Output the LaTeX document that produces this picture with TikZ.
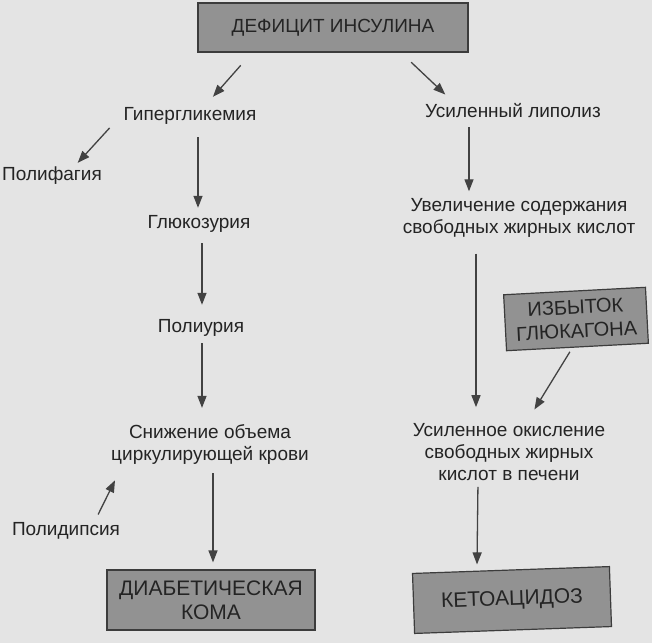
\documentclass[tikz,border=0pt]{standalone}
\usepackage{fontspec}
\setmainfont{Liberation Sans}
\usetikzlibrary{arrows.meta}

\definecolor{paper}{RGB}{228,228,228}
\definecolor{ink}{RGB}{36,36,36}
\definecolor{boxgray}{RGB}{146,146,146}
\definecolor{boxedge}{RGB}{60,60,60}
\definecolor{arrgray}{RGB}{66,66,66}

\tikzset{
  stage/.style={font=\fontsize{19}{22}\selectfont, text=ink, inner sep=0pt, text height=14pt, text depth=4pt},
  stagetwo/.style={font=\fontsize{19}{22}\selectfont, text=ink, inner sep=0pt, align=center},
  grbox/.style={draw=boxedge, fill=boxgray, line width=1.2pt, font=\fontsize{21}{24}\selectfont, text=ink, align=center, inner sep=0pt},
  arr/.style={draw=arrgray, line width=1.3pt, -{Triangle[length=12pt,width=9pt]}}
}

\begin{document}
\begin{tikzpicture}[x=1pt,y=-1pt]
    % Page of the scan
    \fill[paper] (0,0) rectangle (652,643);
    \useasboundingbox (0,0) rectangle (652,643);

    % Shaded boxes
    \node (defic) at (333,27.5) [grbox, font=\fontsize{19}{23}\selectfont, minimum width=270pt, minimum height=49pt] {ДЕФИЦИТ ИНСУЛИНА};
    \node (glucag) at (576,319) [grbox, font=\fontsize{20}{24}\selectfont, minimum width=142pt, minimum height=56pt, rotate=3] {ИЗБЫТОК\\ГЛЮКАГОНА};
    \node (coma) at (211,600) [grbox, minimum width=208pt, minimum height=60pt] {ДИАБЕТИЧЕСКАЯ\\КОМА};
    \node (keto) at (512,600) [grbox, minimum width=197pt, minimum height=60pt, rotate=2] {КЕТОАЦИДОЗ};

    % Left branch
    \node (hyper) at (190,115) [stage] {Гипергликемия};
    \node (polyph) at (52,175) [stage] {Полифагия};
    \node (gluc) at (199,223) [stage] {Глюкозурия};
    \node (poly) at (201,327) [stage] {Полиурия};
    \node (snizh) at (210,444) [stagetwo] {Снижение объема\\циркулирующей крови};
    \node (polydip) at (66,530) [stage] {Полидипсия};

    % Right branch
    \node (lipol) at (513,112) [stage] {Усиленный липолиз};
    \node (fatinc) at (519,218) [stagetwo] {Увеличение содержания\\свободных жирных кислот};
    \node (oxid) at (509,452) [stagetwo] {Усиленное окисление\\свободных жирных\\кислот в печени};

    % Arrows
    \draw[arr, shorten <=17pt, shorten >=12pt] ([xshift=-81pt]defic.south) -- ([xshift=15pt]hyper.north);
    \draw[arr, shorten <=14pt, shorten >=12pt] ([xshift=68pt]defic.south) -- ([xshift=-59pt]lipol.north);
    \draw[arr, shorten <=5pt, shorten >=4pt] ([xshift=-77pt]hyper.south) -- ([xshift=23pt]polyph.north);
    \draw[arr, shorten <=13pt, shorten >=6pt] ([xshift=8pt]hyper.south) -- ([xshift=-1pt]gluc.north);
    \draw[arr, shorten <=11pt, shorten >=13pt] ([xshift=3pt]gluc.south) -- ([xshift=1pt]poly.north);
    \draw[arr, shorten <=7pt, shorten >=16pt] ([xshift=1pt]poly.south) -- ([xshift=-8pt]snizh.north);
    \draw[arr, shorten <=7pt, shorten >=18pt] ([xshift=29pt]polydip.north) -- ([xshift=-87pt]snizh.south);
    \draw[arr, shorten <=9pt, shorten >=7pt] ([xshift=3pt]snizh.south) -- ([xshift=2pt]coma.north);
    \draw[arr, shorten <=6pt, shorten >=7pt] ([xshift=-44pt]lipol.south) -- ([xshift=-50pt]fatinc.north);
    \draw[arr, shorten <=16pt, shorten >=16pt] ([xshift=-43pt]fatinc.south) -- ([xshift=-33pt]oxid.north);
    \draw[arr, shorten <=5pt, shorten >=16pt] ([xshift=-5pt]glucag.south) -- ([xshift=17pt]oxid.north);
    \draw[arr, shorten <=6pt, shorten >=5pt] ([xshift=-31pt]oxid.south) -- ([xshift=-34pt]keto.north);

\end{tikzpicture}
\end{document}
